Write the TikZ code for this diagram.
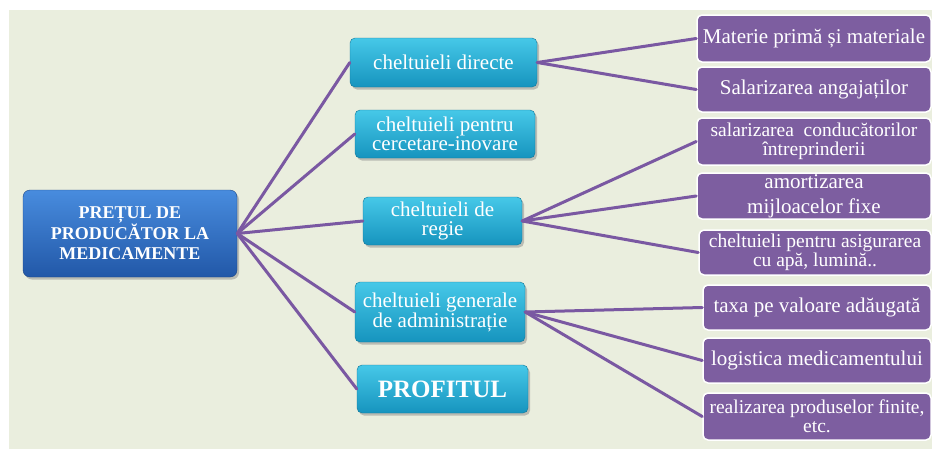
\documentclass[tikz,border=0pt]{standalone}
\usepackage{fontspec}
\setmainfont{Liberation Serif}
\newfontfamily\serf{Liberation Serif}
\usetikzlibrary{shadows}
\definecolor{bgc}{RGB}{234,238,222}
\definecolor{cyantop}{RGB}{70,200,232}
\definecolor{cyanbot}{RGB}{22,148,190}
\definecolor{bluetop}{RGB}{72,140,222}
\definecolor{bluebot}{RGB}{34,88,168}
\definecolor{purp}{RGB}{125,94,160}
\definecolor{linec}{RGB}{122,88,162}
\tikzset{
  rootbox/.style={rounded corners=7pt, top color=bluetop, bottom color=bluebot, draw=bluebot!80!black,
    text=white, align=center, font=\serf\fontsize{18}{20}\selectfont\bfseries, inner sep=0pt,
    drop shadow={opacity=0.45, shadow xshift=2pt, shadow yshift=-2.5pt}},
  midbox/.style={rounded corners=5pt, top color=cyantop, bottom color=cyanbot, draw=cyanbot!80!black,
    text=white, align=center, font=\serf\fontsize{21}{19}\selectfont, inner sep=0pt,
    drop shadow={opacity=0.45, shadow xshift=2pt, shadow yshift=-2.5pt}},
  leafbox/.style={rounded corners=5pt, fill=purp, draw=white, line width=1.5pt,
    text=white, align=center, font=\serf\fontsize{21}{20}\selectfont, inner sep=0pt,
    minimum width=234pt, minimum height=46pt},
  conn/.style={draw=linec, line width=3pt, line cap=round}
}
\begin{document}
\begin{tikzpicture}[x=1pt,y=-1pt]
\useasboundingbox (0,0) rectangle (932,450);
\fill[white] (0,0) rectangle (932,450);
\fill[bgc] (9,10) rectangle (932,449);

\node[rootbox, minimum width=214pt, minimum height=87pt] (root) at (130,233.5) {PREȚUL DE\\PRODUCĂTOR LA\\MEDICAMENTE};

\node[midbox, minimum width=187pt, minimum height=49pt] (d1) at (443.5,62.5) {cheltuieli directe};
\node[midbox, minimum width=180pt, minimum height=48pt] (d2) at (445,134) {cheltuieli pentru\\cercetare-inovare};
\node[midbox, minimum width=159pt, minimum height=48pt] (d3) at (442.5,221) {cheltuieli de\\regie};
\node[midbox, minimum width=170pt, minimum height=60pt] (d4) at (440,312) {cheltuieli generale\\de administrație};
\node[midbox, minimum width=171pt, minimum height=48pt, font=\serf\fontsize{25}{25}\selectfont\bfseries] (d5) at (442.5,389) {PROFITUL};

\node[leafbox, minimum height=47pt] (p1) at (814,38.5) {Materie primă și materiale};
\node[leafbox, minimum height=45pt] (p2) at (814,89.5) {Salarizarea angajaților};
\node[leafbox, minimum height=47pt, font=\serf\fontsize{19.5}{18.5}\selectfont] (p3) at (814,141.5) {salarizarea\ \ conducătorilor\\întreprinderii};
\node[leafbox, minimum height=46pt, font=\serf\fontsize{21}{25}\selectfont] (p4) at (814,196) {amortizarea\\mijloacelor fixe};
\node[leafbox, minimum width=232pt, minimum height=45pt, font=\serf\fontsize{19.5}{18.5}\selectfont] (p5) at (815,252.5) {cheltuieli pentru asigurarea\\cu apă, lumină..};
\node[leafbox, minimum width=228pt, minimum height=45pt] (p6) at (817,307.5) {taxa pe valoare adăugată};
\node[leafbox, minimum width=228pt, minimum height=45pt] (p7) at (817,360.5) {logistica medicamentului};
\node[leafbox, minimum width=228pt, minimum height=47pt, font=\serf\fontsize{19.5}{18.5}\selectfont] (p8) at (817,416.5) {realizarea produselor finite,\\etc.};

\foreach \t in {d1,d2,d3,d4,d5} \draw[conn] (root.east) -- (\t.west);
\foreach \t in {p1,p2} \draw[conn] (d1.east) -- (\t.west);
\foreach \t in {p3,p4,p5} \draw[conn] (d3.east) -- (\t.west);
\foreach \t in {p6,p7,p8} \draw[conn] (d4.east) -- (\t.west);
\end{tikzpicture}
\end{document}
